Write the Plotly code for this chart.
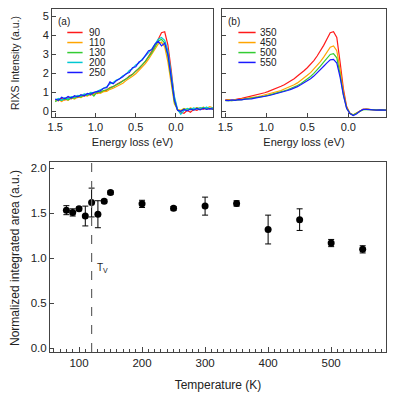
import plotly.graph_objects as go

# ---- data: RIXS spectra (energy loss in eV) ----
energy_ev = [1.50, 1.46, 1.42, 1.38, 1.34, 1.30, 1.26, 1.22, 1.18, 1.14,
             1.10, 1.06, 1.02, 0.98, 0.94, 0.90, 0.86, 0.82, 0.78, 0.74,
             0.70, 0.66, 0.62, 0.58, 0.54, 0.50, 0.46, 0.42, 0.38, 0.34,
             0.30, 0.26, 0.22, 0.18, 0.14, 0.10, 0.06, 0.02, -0.02, -0.06,
             -0.10, -0.14, -0.18, -0.22, -0.26, -0.30, -0.34, -0.38, -0.42, -0.46]

# panel (a), low temperatures
int_090 = [0.62, 0.55, 0.68, 0.60, 0.72, 0.66, 0.78, 0.72, 0.84, 0.80,
           0.90, 0.86, 0.97, 0.94, 1.02, 1.08, 1.12, 1.25, 1.30, 1.42,
           1.50, 1.62, 1.70, 1.86, 1.95, 2.12, 2.25, 2.45, 2.62, 2.90,
           3.15, 3.45, 3.80, 4.15, 4.20, 3.50, 2.20, 0.70, 0.05, -0.05,
           -0.10, 0.05, -0.05, 0.10, 0.05, 0.15, 0.10, 0.20, 0.12, 0.18]
int_110 = [0.55, 0.62, 0.52, 0.64, 0.58, 0.70, 0.64, 0.76, 0.72, 0.84,
           0.80, 0.92, 0.88, 0.98, 0.95, 1.04, 1.05, 1.16, 1.22, 1.30,
           1.42, 1.48, 1.62, 1.72, 1.85, 1.98, 2.15, 2.30, 2.52, 2.75,
           3.00, 3.30, 3.55, 3.65, 3.40, 2.60, 1.40, 0.40, 0.10, 0.05,
           0.15, 0.08, 0.18, 0.12, 0.20, 0.14, 0.22, 0.16, 0.24, 0.18]
int_130 = [0.50, 0.62, 0.58, 0.66, 0.60, 0.72, 0.70, 0.80, 0.76, 0.88,
           0.84, 0.96, 0.80, 1.02, 1.00, 1.10, 1.14, 1.22, 1.30, 1.40,
           1.48, 1.60, 1.70, 1.82, 1.95, 2.10, 2.25, 2.45, 2.65, 2.88,
           3.10, 3.40, 3.70, 3.80, 3.60, 2.90, 1.60, 0.50, 0.05, 0.00,
           0.12, 0.05, 0.15, 0.08, 0.18, 0.10, 0.20, 0.12, 0.16, 0.10]
int_200 = [0.60, 0.68, 0.58, 0.72, 0.66, 0.78, 0.74, 0.84, 0.80, 0.92,
           0.88, 1.00, 0.98, 1.06, 1.12, 1.20, 1.30, 1.45, 1.52, 1.65,
           1.72, 1.88, 1.95, 2.15, 2.25, 2.45, 2.55, 2.75, 2.90, 3.10,
           3.30, 3.55, 3.80, 3.90, 3.75, 3.20, 2.00, 0.80, 0.10, -0.15,
           0.05, 0.15, 0.08, 0.18, 0.12, 0.20, 0.14, 0.22, 0.15, 0.20]
int_250 = [0.65, 0.58, 0.74, 0.66, 0.78, 0.70, 0.82, 0.76, 0.88, 0.82,
           0.94, 0.90, 1.00, 1.04, 1.08, 1.22, 1.25, 1.55, 1.45, 1.62,
           1.70, 1.82, 1.98, 2.05, 2.30, 2.35, 2.60, 2.70, 2.95, 3.20,
           3.25, 3.55, 3.70, 3.45, 3.60, 3.00, 1.80, 0.60, 0.05, 0.00,
           0.10, 0.02, 0.12, 0.06, 0.15, 0.08, 0.16, 0.10, 0.14, 0.12]

# panel (b), high temperatures
int_350 = [0.60, 0.62, 0.58, 0.64, 0.66, 0.68, 0.72, 0.74, 0.78, 0.84,
           0.88, 0.94, 0.98, 1.04, 1.10, 1.16, 1.24, 1.32, 1.40, 1.50,
           1.62, 1.72, 1.86, 1.98, 2.14, 2.30, 2.48, 2.68, 2.92, 3.18,
           3.48, 3.82, 4.15, 4.20, 3.90, 2.60, 1.20, 0.25, -0.10, -0.20,
           -0.12, 0.00, 0.10, 0.12, 0.10, 0.08, 0.08, 0.06, 0.08, 0.06]
int_450 = [0.58, 0.60, 0.56, 0.62, 0.62, 0.64, 0.66, 0.68, 0.72, 0.74,
           0.78, 0.82, 0.86, 0.90, 0.94, 1.00, 1.04, 1.10, 1.18, 1.24,
           1.32, 1.40, 1.50, 1.62, 1.76, 1.90, 2.04, 2.22, 2.42, 2.62,
           2.86, 3.12, 3.38, 3.45, 3.20, 2.20, 1.00, 0.20, -0.10, -0.18,
           -0.10, 0.02, 0.10, 0.12, 0.10, 0.08, 0.06, 0.08, 0.06, 0.08]
int_500 = [0.56, 0.58, 0.56, 0.60, 0.60, 0.62, 0.64, 0.66, 0.68, 0.70,
           0.74, 0.78, 0.80, 0.84, 0.88, 0.92, 0.96, 1.02, 1.08, 1.14,
           1.20, 1.28, 1.36, 1.46, 1.58, 1.70, 1.84, 2.00, 2.18, 2.38,
           2.60, 2.82, 3.00, 3.04, 2.82, 1.95, 0.90, 0.18, -0.10, -0.20,
           -0.12, 0.00, 0.08, 0.10, 0.10, 0.08, 0.08, 0.06, 0.08, 0.06]
int_550 = [0.58, 0.56, 0.60, 0.58, 0.62, 0.60, 0.64, 0.64, 0.66, 0.70,
           0.72, 0.76, 0.78, 0.82, 0.86, 0.90, 0.94, 0.98, 1.04, 1.10,
           1.16, 1.22, 1.30, 1.40, 1.50, 1.60, 1.72, 1.86, 2.02, 2.20,
           2.38, 2.56, 2.72, 2.74, 2.55, 1.80, 0.85, 0.15, -0.12, -0.22,
           -0.14, 0.00, 0.10, 0.10, 0.08, 0.08, 0.06, 0.08, 0.06, 0.06]

# ---- data: integrated area vs temperature ----
temperature_k = [80, 90, 100, 110, 120, 130, 140, 150, 200, 250, 300, 350, 400, 450, 500, 550]
area_norm = [1.535, 1.51, 1.55, 1.47, 1.62, 1.49, 1.635, 1.73, 1.605, 1.555, 1.58, 1.61, 1.32, 1.43, 1.17, 1.10]
area_err = [0.05, 0.04, 0.02, 0.11, 0.16, 0.15, 0.02, 0.02, 0.04, 0.02, 0.10, 0.03, 0.16, 0.12, 0.04, 0.04]
t_verwey = 120

panel_a = [("90", int_090, "#ff1a1a"), ("110", int_110, "#ffa500"),
           ("130", int_130, "#33cc33"), ("200", int_200, "#00c8d2"),
           ("250", int_250, "#1a1aff")]
panel_b = [("350", int_350, "#ff1a1a"), ("450", int_450, "#ffa500"),
           ("500", int_500, "#33cc33"), ("550", int_550, "#1a1aff")]

FONT = "Liberation Sans, Arial, sans-serif"
INK = "#222222"
FRAME = "#444444"
W, H, PAGE_PAD = 395, 400, 8   # page body adds an 8px margin around the plot div


def px_x(x0, x1):
    return [(x0 - PAGE_PAD) / W, (x1 - PAGE_PAD) / W]


def px_y(top, bottom):
    return [1 - (bottom - PAGE_PAD) / H, 1 - (top - PAGE_PAD) / H]


fig = go.Figure()

for name, vals, col in panel_a:
    fig.add_trace(go.Scatter(x=energy_ev, y=vals, mode="lines", name=name,
                             line=dict(color=col, width=1.2),
                             xaxis="x", yaxis="y", showlegend=False))
for name, vals, col in panel_b:
    fig.add_trace(go.Scatter(x=energy_ev, y=vals, mode="lines", name=name,
                             line=dict(color=col, width=1.2),
                             xaxis="x2", yaxis="y2", showlegend=False))

fig.add_trace(go.Scatter(
    x=temperature_k, y=area_norm, mode="markers",
    marker=dict(color="black", size=7),
    error_y=dict(type="data", array=area_err, color="black", thickness=1, width=3),
    xaxis="x3", yaxis="y3", showlegend=False))

# legends drawn by hand (line swatch + label) inside panels
shapes = []
annotations = []
legend_y = [4.16, 3.63, 3.10, 2.58, 2.05]
for i, (name, _, col) in enumerate(panel_a):
    shapes.append(dict(type="line", xref="x", yref="y", x0=1.35, x1=1.16,
                       y0=legend_y[i], y1=legend_y[i], line=dict(color=col, width=1.5)))
    annotations.append(dict(xref="x", yref="y", x=1.10, y=legend_y[i], text=name,
                            showarrow=False, xanchor="left", yanchor="middle",
                            font=dict(size=10, color=INK)))
for i, (name, _, col) in enumerate(panel_b):
    shapes.append(dict(type="line", xref="x2", yref="y2", x0=1.34, x1=1.13,
                       y0=legend_y[i], y1=legend_y[i], line=dict(color=col, width=1.5)))
    annotations.append(dict(xref="x2", yref="y2", x=1.10, y=legend_y[i], text=name,
                            showarrow=False, xanchor="left", yanchor="middle",
                            font=dict(size=10, color=INK)))

annotations += [
    dict(xref="x", yref="y", x=1.49, y=4.75, text="(a)", showarrow=False,
         xanchor="left", yanchor="middle", font=dict(size=10, color=INK)),
    dict(xref="x2", yref="y2", x=1.49, y=4.75, text="(b)", showarrow=False,
         xanchor="left", yanchor="middle", font=dict(size=10, color=INK)),
    dict(xref="x3", yref="y3", x=126, y=0.89, text="T<sub>V</sub>", showarrow=False,
         xanchor="left", yanchor="middle", font=dict(size=10, color=INK)),
    dict(xref="paper", yref="paper", x=(15 - PAGE_PAD) / W, y=1 - (63 - PAGE_PAD) / H,
         text="RIXS Intensity (a.u.)", xanchor="center", yanchor="middle",
         textangle=-90, showarrow=False, font=dict(size=10.5, color=INK)),
    dict(xref="paper", yref="paper", x=(15 - PAGE_PAD) / W, y=1 - (258 - PAGE_PAD) / H,
         text="Normalized integrated area (a.u.)", xanchor="center", yanchor="middle",
         textangle=-90, showarrow=False, font=dict(size=12, color=INK)),
]

shapes.append(dict(type="line", xref="x3", yref="y3", x0=t_verwey, x1=t_verwey,
                   y0=-0.04, y1=2.07, line=dict(color="#666666", width=1.2, dash="dash")))

top_x = dict(range=[1.54, -0.46], tickvals=[1.5, 1.0, 0.5, 0.0],
             ticktext=["1.5", "1.0", "0.5", "0.0"], ticks="inside", ticklen=4,
             showline=True, mirror=True, linecolor=FRAME, linewidth=1, automargin=False,
             showgrid=False, zeroline=False, tickfont=dict(size=11, color=INK),
             ticklabeloverflow="allow",
             title=dict(text="Energy loss (eV)", font=dict(size=11, color=INK), standoff=6))
top_y = dict(range=[-0.3, 5.4], tickvals=[0, 1, 2, 3, 4, 5],
             ticktext=["0", "1", "2", "3", "4", "5"], ticks="inside", ticklen=4,
             showline=True, mirror=True, linecolor=FRAME, linewidth=1, automargin=False,
             showgrid=False, zeroline=False, tickfont=dict(size=11, color=INK),
             ticklabeloverflow="allow")

fig.update_layout(
    width=W, height=H,
    margin=dict(l=0, r=0, t=0, b=0),
    paper_bgcolor="white", plot_bgcolor="white",
    font=dict(family=FONT, color=INK),
    xaxis=dict(top_x, domain=px_x(52, 213), anchor="y"),
    yaxis=dict(top_y, domain=px_y(9, 117), anchor="x", showticklabels=True),
    xaxis2=dict(top_x, domain=px_x(222, 386), anchor="y2"),
    yaxis2=dict(top_y, domain=px_y(9, 117), anchor="x2", showticklabels=False),
    xaxis3=dict(range=[54, 587], tickvals=[100, 200, 300, 400, 500], ticks="inside",
                ticklen=5, minor=dict(ticks="inside", dtick=10, ticklen=3, tickcolor=FRAME),
                showline=True, mirror=True, linecolor=FRAME, linewidth=1, automargin=False,
                showgrid=False, zeroline=False, tickfont=dict(size=11.5, color=INK),
                ticklabeloverflow="allow",
                domain=px_x(50, 386), anchor="y3",
                title=dict(text="Temperature (K)", font=dict(size=12, color=INK), standoff=12)),
    yaxis3=dict(range=[-0.04, 2.07], tickvals=[0, 0.5, 1.0, 1.5, 2.0],
                ticktext=["0.0", "0.5", "1.0", "1.5", "2.0"], ticks="inside", ticklen=4,
                showline=True, mirror=True, linecolor=FRAME, linewidth=1, automargin=False,
                showgrid=False, zeroline=False, tickfont=dict(size=11.5, color=INK),
                ticklabeloverflow="allow",
                domain=px_y(162, 352), anchor="x3"),
    shapes=shapes,
    annotations=annotations,
)

fig.write_html("out.html")
